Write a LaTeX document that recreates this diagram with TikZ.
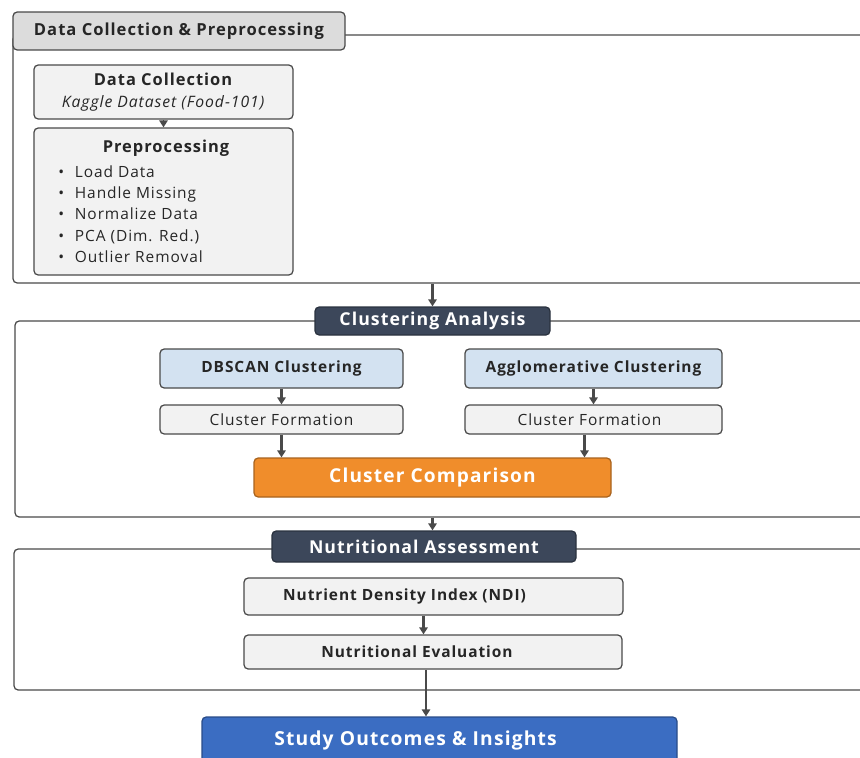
\documentclass[tikz,border=0pt]{standalone}
\usepackage{fontspec}
\setmainfont{Open Sans}[LetterSpace=6]
\usetikzlibrary{shapes,arrows.meta,positioning,calc}
\definecolor{framegray}{HTML}{4A4A4A}
\definecolor{headgray}{HTML}{DCDCDC}
\definecolor{boxgray}{HTML}{F2F2F2}
\definecolor{darkhead}{HTML}{3C475A}
\definecolor{lightblue}{HTML}{D3E2F1}
\definecolor{compOrange}{HTML}{F08D2B}
\definecolor{outBlue}{HTML}{3B6DC2}

\begin{document}
\begin{tikzpicture}
  \tikzstyle{container}=[rectangle, draw=framegray, line width=0.9pt, rounded corners=3pt]
  \tikzstyle{stage}=[rectangle, draw=framegray, line width=0.9pt, rounded corners=3pt, inner sep=0pt, align=center, text=black!85]
  \tikzstyle{toplabel}=[stage, fill=headgray, font=\fontsize{11.8}{14}\selectfont\bfseries]
  \tikzstyle{darklabel}=[stage, fill=darkhead, draw=darkhead!70!black, text=white, font=\fontsize{12.6}{15}\selectfont\bfseries]
  \tikzstyle{inbox}=[stage, fill=boxgray, font=\fontsize{11}{13}\selectfont]
  \tikzstyle{method}=[stage, fill=lightblue, font=\fontsize{11}{13}\selectfont\bfseries]
  \tikzstyle{compare}=[stage, fill=compOrange, draw=compOrange!70!black, text=white, font=\fontsize{13.6}{16}\selectfont\bfseries]
  \tikzstyle{result}=[stage, fill=outBlue, draw=outBlue!70!black, text=white, font=\fontsize{13.7}{16}\selectfont\bfseries]
  \tikzstyle{arr}=[-{Triangle[length=5pt,width=6pt]}, line width=1.6pt, draw=framegray]

  \useasboundingbox (0,0) rectangle (21.5,-18.925);
  \clip (0,0) rectangle (21.5,-18.925);

  % Containers
  \node[container, minimum width=22.175cm, minimum height=6.2cm] (c1) at (11.4125,-3.975) {};
  \node[container, minimum width=22.125cm, minimum height=4.9cm] (c2) at (11.4375,-10.475) {};
  \node[container, minimum width=22.15cm, minimum height=3.525cm] (c3) at (11.425,-15.4875) {};

  % Data collection & preprocessing
  \node[toplabel, minimum width=8.3cm, minimum height=0.95cm] (h1) at (4.475,-0.775) {Data Collection \& Preprocessing};
  \node[inbox, minimum width=6.475cm, minimum height=1.35cm, font=\fontsize{11.2}{15.6}\selectfont] (dc) at (4.0875,-2.3) {\textbf{\fontsize{11.7}{15.6}\selectfont Data Collection}\\\textit{Kaggle Dataset (Food-101)}};
  \node[inbox, minimum width=6.475cm, minimum height=3.675cm] (pre) at (4.0875,-5.0375) {};
  \node[font=\fontsize{11.7}{14}\selectfont\bfseries, text=black!85] (pretitle) at (4.15,-3.7) {Preprocessing};
  \node[anchor=west, inner sep=0pt, align=left, text=black!85, font=\fontsize{11}{15.1}\selectfont] (prelist) at (1.45,-5.35)
    {\textbullet\hspace{0.7em}Load Data\\\textbullet\hspace{0.7em}Handle Missing\\\textbullet\hspace{0.7em}Normalize Data\\\textbullet\hspace{0.7em}PCA (Dim. Red.)\\\textbullet\hspace{0.7em}Outlier Removal};

  % Clustering
  \node[darklabel, minimum width=5.875cm, minimum height=0.7cm] (h2) at (10.8125,-8.025) {Clustering Analysis};
  \node[method, minimum width=6.075cm, minimum height=0.975cm] (db) at (7.0375,-9.2125) {DBSCAN Clustering};
  \node[inbox, minimum width=6.075cm, minimum height=0.725cm] (cf1) at (7.0375,-10.4875) {Cluster Formation};
  \node[method, minimum width=6.425cm, minimum height=0.975cm] (ag) at (14.8375,-9.2125) {Agglomerative Clustering};
  \node[inbox, minimum width=6.425cm, minimum height=0.725cm] (cf2) at (14.8375,-10.4875) {Cluster Formation\hspace*{0.2cm}};
  \node[compare, minimum width=8.925cm, minimum height=0.975cm] (cc) at (10.8125,-11.9375) {Cluster Comparison};

  % Nutrition
  \node[darklabel, minimum width=7.6cm, minimum height=0.775cm] (h3) at (10.6,-13.6625) {Nutritional Assessment};
  \node[inbox, minimum width=9.475cm, minimum height=0.925cm, font=\fontsize{11}{13}\selectfont\bfseries] (ndi) at (10.8375,-14.9125) {Nutrient Density Index (NDI)\hspace*{1.45cm}};
  \node[inbox, minimum width=9.45cm, minimum height=0.85cm, font=\fontsize{11}{13}\selectfont\bfseries] (ne) at (10.825,-16.3) {Nutritional Evaluation\hspace*{0.8cm}};

  % Outcome
  \node[result, minimum width=11.875cm, minimum height=1.15cm] (so) at (10.9875,-18.5) {Study Outcomes \& Insights\hspace*{1.2cm}};

  % Arrows
  \draw[arr, line width=1.2pt] (dc) -- (pre);
  \draw[arr] (h2.north |- c1.south) -- (h2.north);
  \draw[arr] (db) -- (cf1);
  \draw[arr] (ag) -- (cf2);
  \draw[arr] (cf1.south) -- (cf1.south |- cc.north);
  \draw[arr] ([xshift=-0.225cm]cf2.south) -- ([xshift=-0.225cm]cf2.south |- cc.north);
  \draw[arr] (h2.south |- c2.south) -- (h2.south |- h3.north);
  \draw[arr] ([xshift=-0.25cm]ndi.south) -- ([xshift=-0.25cm]ndi.south |- ne.north);
  \draw[arr] ([xshift=-0.175cm]ne.south) -- ([xshift=-0.175cm]ne.south |- so.north);
\end{tikzpicture}
\end{document}
